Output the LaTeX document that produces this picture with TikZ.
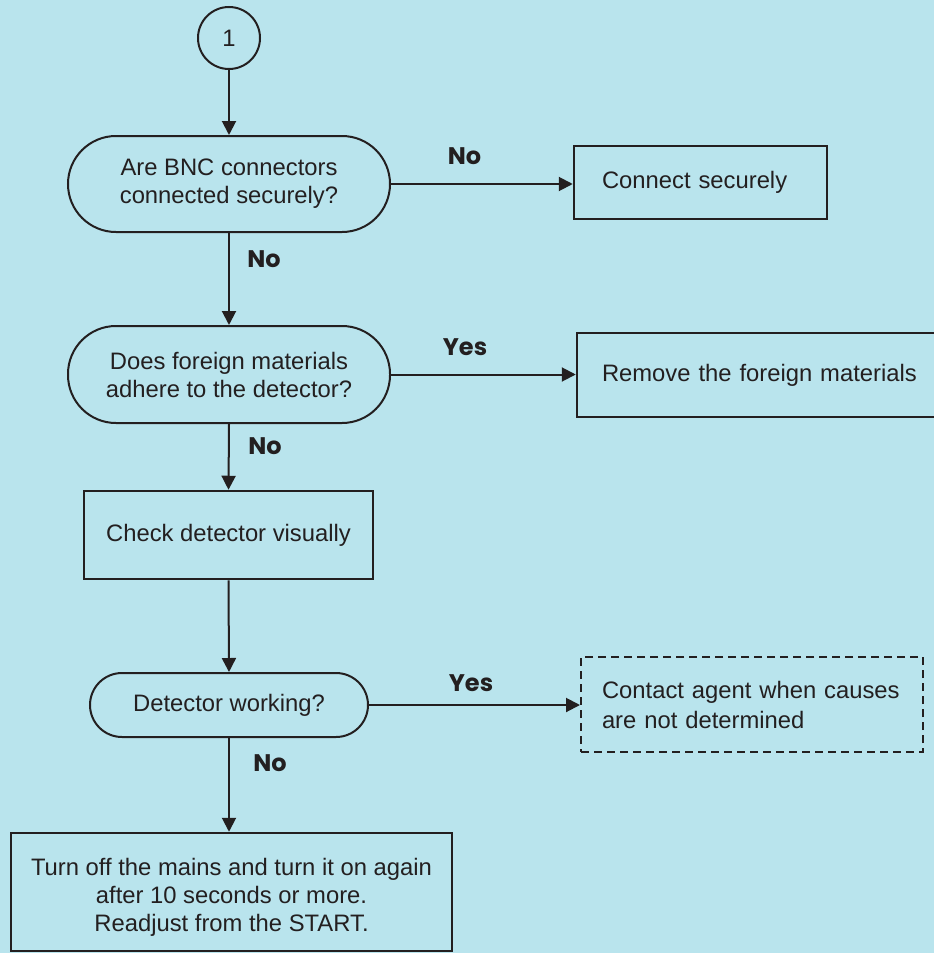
\documentclass[tikz,border=0pt]{standalone}
\usepackage{fontspec}
\setmainfont{Liberation Sans}
\newfontfamily\labelfont{Poppins}
\usetikzlibrary{arrows.meta}
\definecolor{bgblue}{RGB}{185,228,237}
\definecolor{ink}{RGB}{35,31,32}
\begin{document}
\begin{tikzpicture}[x=1pt,y=-1pt,
  every node/.style={text=ink},
  txt/.style={font=\fontsize{23.8}{28}\selectfont},
  term/.style={txt,draw=ink,line width=2pt,rounded corners=#1,align=center,inner sep=0pt},
  actbox/.style={txt,draw=ink,line width=2.5pt,inner sep=0pt},
  leftbox/.style={actbox,align=left,inner ysep=0pt},
  yn/.style={font=\labelfont\bfseries\fontsize{24}{28}\selectfont},
  flow/.style={draw=ink,line width=2pt,-{Triangle[length=14pt,width=14pt]}}]
  % canvas
  \useasboundingbox (0,0) rectangle (934,953);
  \clip (0,0) rectangle (934,953);
  \fill[bgblue] (0,0) rectangle (934,953);

  % connector circle
  \node[draw=ink,line width=2pt,circle,minimum size=62pt,inner sep=0pt,txt] (c1) at (229,38) {1};

  % decisions
  \node[term=48pt,minimum width=322pt,minimum height=96pt] (t1) at (229,184)
    {Are BNC connectors\\connected securely?};
  \node[term=48pt,minimum width=322pt,minimum height=97pt] (t2) at (229,374.5)
    {Does foreign materials\\adhere to the detector?};
  \node[term=32pt,minimum width=278pt,minimum height=64pt] (t3) at (229,705)
    {Detector working?};

  % actions
  \node[leftbox,minimum height=73pt,inner xsep=28pt,text width=197pt] (b1) at (700.5,182.5)
    {Connect securely};
  \node[leftbox,minimum height=84pt,inner xsep=25pt,text width=350pt] (b2) at (777,375)
    {Remove the foreign materials};
  \node[actbox,minimum width=289pt,minimum height=88pt] (b3) at (228.5,535)
    {Check detector visually};
  \node[leftbox,dashed,dash pattern=on 8pt off 5pt,line width=2pt,minimum height=95pt,
        inner xsep=21pt,text width=300pt,font=\fontsize{23.8}{30}\selectfont] (b4) at (752,704.5)
    {Contact agent when causes\\are not determined};
  \node[actbox,minimum width=441pt,minimum height=118pt] (b5) at (231.5,892) {};
  \node[txt,align=center,inner sep=0pt] (b5text) at (231.5,897)
    {Turn off the mains and turn it on again\\after 10 seconds or more.\\Readjust from the START.};

  % connectors
  \draw[flow] (c1.south) -- (t1.north);
  \draw[flow] (t1.east) -- (t1.east -| b1.west);
  \draw[flow] (t1.south) -- (t2.north);
  \draw[flow] (t2.east) -- (t2.east -| b2.west);
  \draw[flow] (t2.south) -- (b3.north);
  \draw[flow] (b3.south) -- (t3.north);
  \draw[flow] (t3.east) -- (t3.east -| b4.west);
  \draw[flow] (t3.south) -- (t3.south |- b5.north);

  % branch labels
  \node[yn] (l1) at (464.5,156) {No};
  \node[yn] (l2) at (264,259) {No};
  \node[yn] (l3) at (465,347) {Yes};
  \node[yn] (l4) at (265,446) {No};
  \node[yn] (l5) at (471,683) {Yes};
  \node[yn] (l6) at (270,763) {No};
\end{tikzpicture}
\end{document}
